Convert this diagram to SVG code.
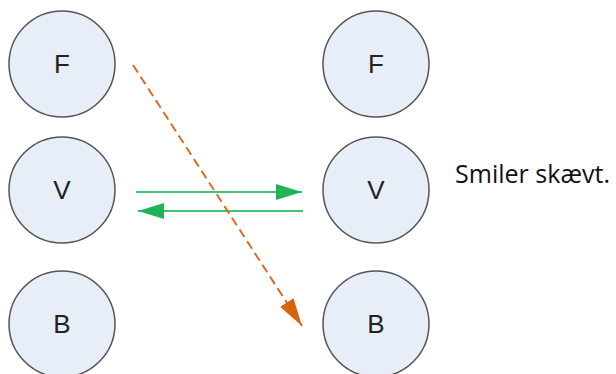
<svg xmlns="http://www.w3.org/2000/svg" width="616" height="374" viewBox="0 0 616 374">
<defs>
<style>
.node circle{fill:#E8EEF8;stroke:#555;stroke-width:1.5}
.node text{font-family:"Liberation Sans",Arial,sans-serif;font-size:26px;fill:#222;text-anchor:middle;dominant-baseline:central}
.g{stroke:#3CC477;stroke-width:2;fill:none}
.o{stroke:#DC6A1E;stroke-width:2;fill:none;stroke-dasharray:9 5}
</style>
<marker id="ag" markerUnits="userSpaceOnUse" markerWidth="28" markerHeight="18" refX="26" refY="8" orient="auto"><path d="M0,0 L26,8 L0,16 Z" fill="#1FB35A"/></marker>
<marker id="ao" markerUnits="userSpaceOnUse" markerWidth="30" markerHeight="18" refX="28" refY="8" orient="auto"><path d="M0,0 L28,8 L0,16 Z" fill="#D9640F"/></marker>
</defs>
<g id="F1" class="node"><circle cx="62" cy="64" r="53"/><text x="62" y="64">F</text></g>
<g id="V1" class="node"><circle cx="62" cy="190" r="53"/><text x="62" y="190">V</text></g>
<g id="B1" class="node"><circle cx="62" cy="324" r="53"/><text x="62" y="324">B</text></g>
<g id="F2" class="node"><circle cx="376" cy="64" r="53"/><text x="376" y="64">F</text></g>
<g id="V2" class="node"><circle cx="376" cy="190" r="53"/><text x="376" y="190">V</text></g>
<g id="B2" class="node"><circle cx="376" cy="324" r="53"/><text x="376" y="324">B</text></g>
<g id="connectors">
<line class="g" x1="136" y1="192" x2="302" y2="192" marker-end="url(#ag)"/>
<line class="g" x1="303" y1="211" x2="138" y2="211" marker-end="url(#ag)"/>
<line class="o" x1="133" y1="65" x2="302" y2="326" marker-end="url(#ao)"/>
</g>
<text x="455" y="183" font-family="'Open Sans','Noto Sans',sans-serif" font-size="25" fill="#111" textLength="155" lengthAdjust="spacingAndGlyphs">Smiler skævt.</text>
</svg>
